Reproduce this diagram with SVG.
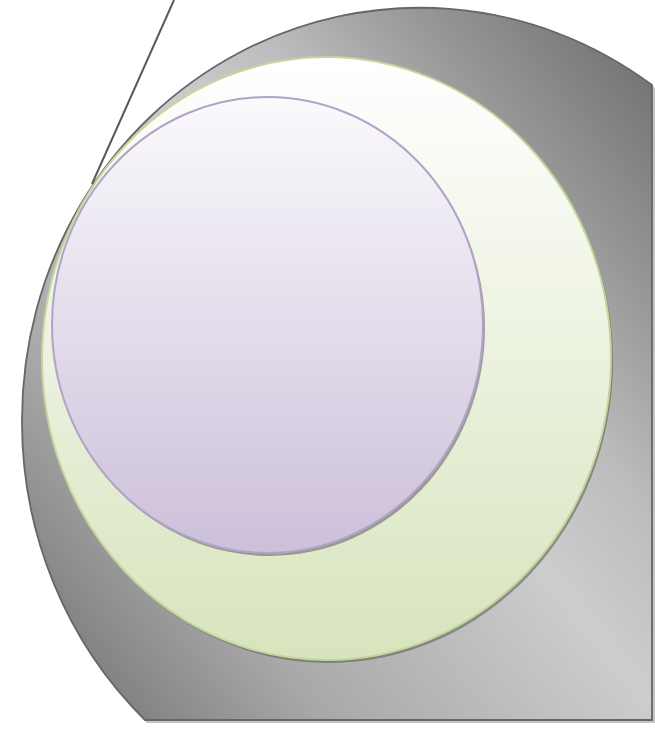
<svg xmlns="http://www.w3.org/2000/svg" width="655" height="729" viewBox="0 0 655 729">
<defs>
<linearGradient id="gGrey" gradientUnits="userSpaceOnUse" x1="-46" y1="693" x2="686" y2="107">
<stop offset="0" stop-color="#7a7a7a"/>
<stop offset="0.125" stop-color="#808080"/>
<stop offset="0.29" stop-color="#a8a8a8"/>
<stop offset="0.575" stop-color="#cdcdcd"/>
<stop offset="0.7" stop-color="#bcbcbc"/>
<stop offset="0.833" stop-color="#999999"/>
<stop offset="1" stop-color="#727272"/>
</linearGradient>
<linearGradient id="gGreen" x1="0" y1="0" x2="0" y2="1">
<stop offset="0" stop-color="#ffffff"/>
<stop offset="1" stop-color="#d7e4bd"/>
</linearGradient>
<linearGradient id="gPurple" x1="0" y1="0" x2="0" y2="1">
<stop offset="0" stop-color="#faf9fc"/>
<stop offset="1" stop-color="#ccc0da"/>
</linearGradient>
</defs>
<style>
.shadow{fill:#5a5a5a;opacity:0.55}
.outer{fill:url(#gGrey);stroke:#666666;stroke-width:1.8}
.mid{fill:url(#gGreen);stroke:#c3d69b;stroke-width:2}
.inner{fill:url(#gPurple);stroke:#b3a2c7;stroke-width:2}
.conn{fill:none;stroke:#595959;stroke-width:2}
</style>
<g id="outer">
<path d="M147,723 L655,723 L655,88 A398,412 0 0 0 25,423 A398,412 0 0 0 147,723 Z" fill="#c4c4c4"/>
<path class="outer" d="M145,720 L652,720 L652,85 A398,412 0 0 0 22,420 A398,412 0 0 0 145,720 Z"/>
</g>
<g id="middle">
<ellipse class="shadow" cx="328.5" cy="361.5" rx="284.5" ry="301.5"/>
<ellipse class="mid" cx="326.5" cy="358.5" rx="284.5" ry="301.5"/>
</g>
<g id="inner">
<ellipse class="shadow" cx="269.5" cy="328" rx="215.5" ry="228"/>
<ellipse class="inner" cx="267.5" cy="325" rx="215.5" ry="228"/>
</g>
<g id="connectors">
<line class="conn" x1="174" y1="0" x2="92" y2="184"/>
</g>
</svg>
